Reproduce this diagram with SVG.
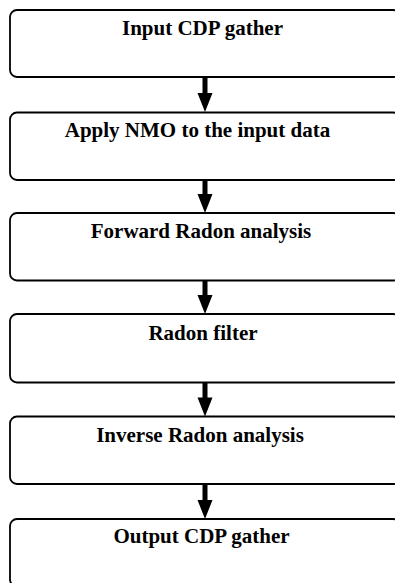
<svg xmlns="http://www.w3.org/2000/svg" width="395" height="583" viewBox="0 0 395 583">
<style>
.box{fill:#fff;stroke:#000;stroke-width:1.8}
.lbl{font-family:"Liberation Serif","Times New Roman",serif;font-weight:bold;font-size:21px;fill:#000;text-anchor:middle}
.arr{fill:#000;stroke:none}
</style>
<rect width="395" height="583" fill="#fff"/>
<g id="connectors">
<path class="arr" d="M202.5,77 H207.5 V93 H212.5 L205,112 L197.5,93 H202.5 Z"/>
<path class="arr" d="M202.5,180 H207.5 V194 H212.5 L205,213 L197.5,194 H202.5 Z"/>
<path class="arr" d="M202.5,281 H207.5 V295 H212.5 L205,314 L197.5,295 H202.5 Z"/>
<path class="arr" d="M202.5,382.5 H207.5 V397.5 H212.5 L205,416.5 L197.5,397.5 H202.5 Z"/>
<path class="arr" d="M202.5,484 H207.5 V500 H212.5 L205,519 L197.5,500 H202.5 Z"/>
</g>
<g id="n1"><rect class="box" x="10" y="10" width="390" height="67" rx="7"/><text class="lbl" x="202.5" y="35">Input CDP gather</text></g>
<g id="n2"><rect class="box" x="10" y="112.5" width="390" height="67.5" rx="7"/><text class="lbl" x="197.5" y="137">Apply NMO to the input data</text></g>
<g id="n3"><rect class="box" x="10" y="213" width="390" height="67.5" rx="7"/><text class="lbl" x="201" y="238">Forward Radon analysis</text></g>
<g id="n4"><rect class="box" x="10" y="314" width="390" height="68.5" rx="7"/><text class="lbl" x="203" y="340">Radon filter</text></g>
<g id="n5"><rect class="box" x="10" y="416.5" width="390" height="67.5" rx="7"/><text class="lbl" x="200" y="442">Inverse Radon analysis</text></g>
<g id="n6"><rect class="box" x="10" y="519" width="390" height="67.5" rx="7"/><text class="lbl" x="201.5" y="543">Output CDP gather</text></g>
</svg>
